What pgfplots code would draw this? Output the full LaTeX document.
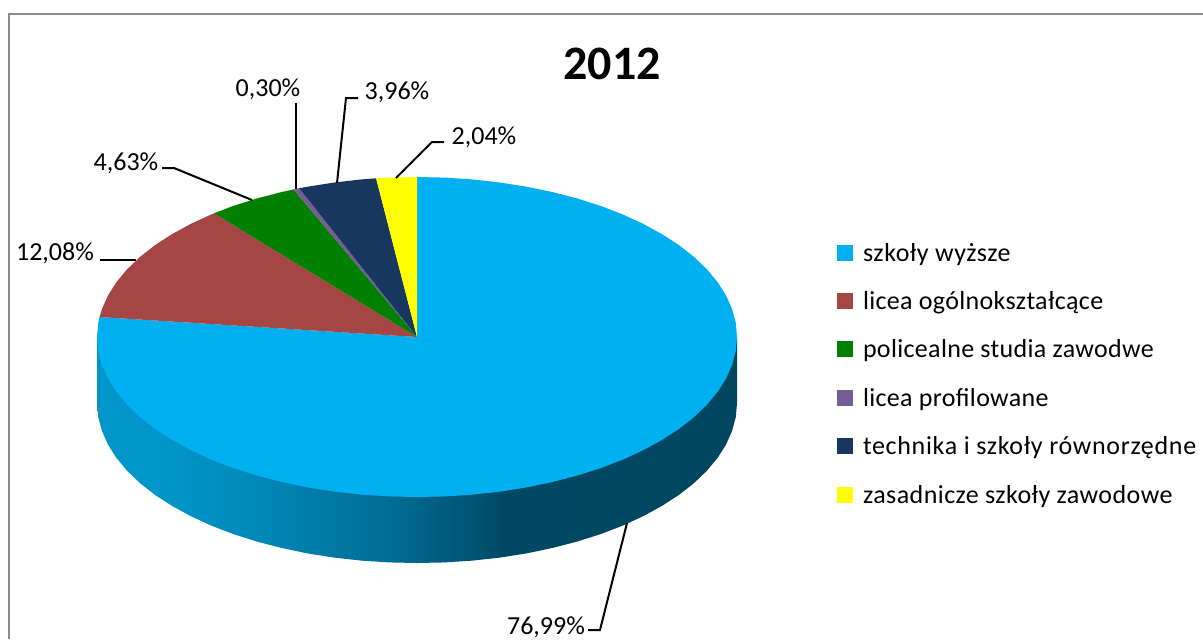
\documentclass[border=0pt]{standalone}
\usepackage{pgfplots}
\pgfplotsset{compat=1.18}
\usepackage{fontspec}
\setmainfont{Carlito}
\newfontfamily\legfont[LetterSpace=1.3]{Carlito}
\definecolor{cblue}{HTML}{00B0F0}
\definecolor{cred}{HTML}{A54644}
\definecolor{cgreen}{HTML}{008000}
\definecolor{cpurple}{HTML}{775C96}
\definecolor{cnavy}{HTML}{17375E}
\definecolor{cyellow}{HTML}{FFFF00}
\definecolor{cframe}{HTML}{8C8C8C}
\pgfdeclarehorizontalshading{pieside}{100bp}{
 color(0bp)=(rgb,255:red,0;green,150;blue,202);
 color(30bp)=(rgb,255:red,0;green,150;blue,202);
 color(36bp)=(rgb,255:red,0;green,140;blue,188);
 color(48bp)=(rgb,255:red,0;green,108;blue,147);
 color(57bp)=(rgb,255:red,0;green,72;blue,100);
 color(75bp)=(rgb,255:red,0;green,70;blue,95);
 color(100bp)=(rgb,255:red,0;green,70;blue,95)}
\begin{document}
\begin{tikzpicture}
\useasboundingbox (0,0) rectangle (601.5pt,319.5pt);
\begin{axis}[
  scale only axis, width=601.5pt, height=319.5pt,
  xmin=0, xmax=1203, ymin=0, ymax=639, y dir=reverse,
  axis lines=none, no markers,
  legend cell align=left,
  legend image code/.code={\fill[#1] (0pt,-3pt) rectangle (8pt,5pt);},
  legend style={at={(axis cs:837,238)},anchor=north west,draw=none,fill=none,
    row sep=7.7pt,inner sep=0pt,outer sep=0pt,
    font=\fontsize{13}{15}\legfont,
    nodes={text height=9.5pt,text depth=3pt,inner sep=2pt},
    /tikz/column 1/.style={column sep=3pt}},
]
% side of the pie
\addplot[forget plot,draw=none,shading=pieside] coordinates {
(97,337) (97,403) (98.2,417) (101.9,430.8) (107.9,444.4) (116.3,457.7) (127,470.6) (139.9,483) (154.9,494.8) (171.9,505.8) (190.7,516.1) (211.3,525.6) (233.4,534.1) (257,541.6) (281.8,548) (307.5,553.4) (334.2,557.6) (361.4,560.6) (389.1,562.4) (417,563) (444.9,562.4) (472.6,560.6) (499.8,557.6) (526.5,553.4) (552.2,548) (577,541.6) (600.6,534.1) (622.7,525.6) (643.3,516.1) (662.1,505.8) (679.1,494.8) (694.1,483) (707,470.6) (717.7,457.7) (726.1,444.4) (732.1,430.8) (735.8,417) (737,403) (737,337)
};
% top face
\addplot[fill=cblue,draw=none] coordinates {
(417,337) (417,177) (444.9,177.6) (472.6,179.4) (499.8,182.5) (526.5,186.7) (552.2,192.0) (577,198.4) (600.6,205.9) (622.7,214.4) (643.3,223.9) (662.1,234.2) (679.1,245.2) (694.1,257) (707,269.4) (717.7,282.3) (726.1,295.6) (732.1,309.2) (735.8,323.1) (737,337)
(735.8,351) (732.1,364.8) (726.1,378.4) (717.7,391.7) (707,404.6) (694.1,417) (679.1,428.8) (662.1,439.8) (643.3,450.1) (622.7,459.6) (600.6,468.1) (577,475.6) (552.2,482) (526.5,487.4) (499.8,491.6) (472.6,494.6) (444.9,496.4) (417,497)
(389.1,496.4) (361.4,494.6) (334.2,491.6) (307.5,487.4) (281.8,482) (257,475.6) (233.4,468.1) (211.3,459.6) (190.7,450.1) (171.9,439.8) (154.9,428.8) (139.9,417) (127,404.6) (116.3,391.7) (107.9,378.4) (101.9,364.8) (98.2,351) (97,337) (98.2,323.1) (99.5,317)
};
\addlegendentry{\addfontfeature{LetterSpace=2}szkoły wyższe}
\addplot[fill=cred,draw=none] coordinates {
(417,337) (99.5,317) (101.9,309.2) (107.9,295.6) (116.3,282.3) (127,269.4) (139.9,257) (154.9,245.2) (171.9,234.2) (190.7,223.9) (211.3,214.4) (214,213.3)
};
\addlegendentry{licea ogólnokształcące}
\addplot[fill=cgreen,draw=none] coordinates {
(417,337) (214,213.3) (233.4,205.9) (257,198.4) (281.8,192) (293.6,189.4)
};
\addlegendentry{policealne studia zawodwe}
\addplot[fill=cpurple,draw=none] coordinates {
(417,337) (293.6,189.4) (299.2,188.2)
};
\addlegendentry{licea profilowane}
\addplot[fill=cnavy,draw=none] coordinates {
(417,337) (299.2,188.2) (307.5,186.7) (334.2,182.5) (361.4,179.4) (376.1,178.3)
};
\addlegendentry{\addfontfeature{LetterSpace=2.6}technika i szkoły równorzędne}
\addplot[fill=cyellow,draw=none] coordinates {
(417,337) (376.1,178.3) (389.1,177.6) (417,177)
};
\addlegendentry{\addfontfeature{LetterSpace=1.7}zasadnicze szkoły zawodowe}
% leader lines
\addplot[forget plot,black,line width=1pt] coordinates {(588,630) (600,630) (627,523)};
\addplot[forget plot,black,line width=1pt] coordinates {(100,260) (136,260)};
\addplot[forget plot,black,line width=1pt] coordinates {(162,168) (174,168) (252,200)};
\addplot[forget plot,black,line width=1pt] coordinates {(296,103) (296,189)};
\addplot[forget plot,black,line width=1pt] coordinates {(358,98) (346,98) (337,183)};
\addplot[forget plot,black,line width=1pt] coordinates {(444,142) (432,142) (396,178)};
% chart frame
\addplot[forget plot,cframe,line width=1pt] coordinates {(8.5,639) (8.5,13.5) (1203,13.5)};
\begin{scope}[every node/.style={font=\fontsize{13}{15}\selectfont,inner sep=0pt}]
\node at (axis cs:546,627) {76,99\%};
\node at (axis cs:55,253) {12,08\%};
\node at (axis cs:126,163) {4,63\%};
\node at (axis cs:268,89) {0,30\%};
\node at (axis cs:397,92) {3,96\%};
\node at (axis cs:484,137) {2,04\%};
\end{scope}
\node[font=\fontsize{24}{28}\selectfont\bfseries,inner sep=0pt] at (axis cs:612,64) {2012};
\end{axis}
\end{tikzpicture}
\end{document}
